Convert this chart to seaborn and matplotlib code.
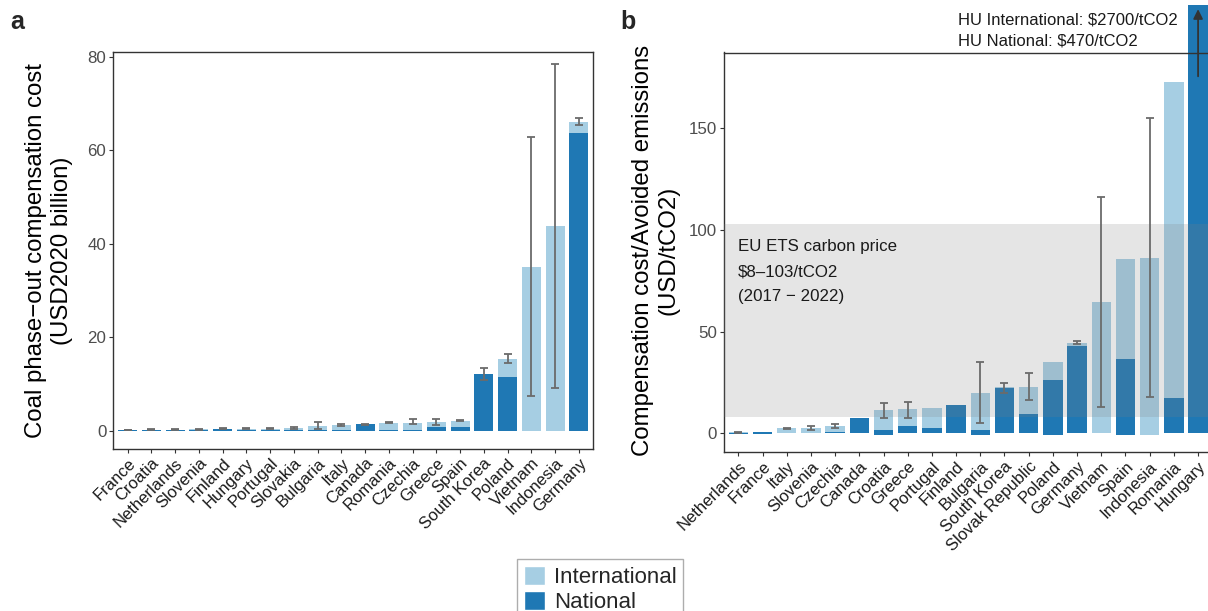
import numpy as np
import pandas as pd
import matplotlib
matplotlib.use("Agg")
import matplotlib.pyplot as plt
import seaborn as sns
from matplotlib.patches import Patch
from matplotlib.transforms import Bbox, TransformedBbox

sns.set_theme(style="white")
plt.rcParams["font.family"] = ["Liberation Sans", "DejaVu Sans"]

# ---------------- data: panel a ----------------
a_countries = ["France", "Croatia", "Netherlands", "Slovenia", "Finland", "Hungary",
               "Portugal", "Slovakia", "Bulgaria", "Italy", "Canada", "Romania",
               "Czechia", "Greece", "Spain", "South Korea", "Poland", "Vietnam",
               "Indonesia", "Germany"]
a_international = [0.10, 0.20, 0.15, 0.30, 0.35, 0.40, 0.40, 0.55, 1.05, 1.20, 1.25, 1.70,
                   1.60, 1.85, 2.10, 12.0, 15.4, 35.1, 43.9, 66.1]
a_national = [0.10, 0.05, 0.20, 0.05, 0.40, 0.05, 0.05, 0.15, 0.05, 0.15, 1.30, 0.15,
              0.10, 0.65, 0.80, 12.1, 11.5, 0.0, 0.0, 63.8]
a_err_low = [0.02, 0.15, 0.10, 0.20, 0.35, 0.35, 0.35, 0.40, 0.30, 0.90, 1.25, 1.60,
             1.40, 1.20, 2.00, 10.8, 14.4, 7.3, 9.1, 65.4]
a_err_high = [0.15, 0.25, 0.30, 0.40, 0.45, 0.45, 0.45, 0.85, 1.80, 1.50, 1.35, 1.80,
              2.40, 2.50, 2.20, 13.4, 16.3, 62.8, 78.6, 67.0]

# ---------------- data: panel b ----------------
b_countries = ["Netherlands", "France", "Italy", "Slovenia", "Czechia", "Canada", "Croatia",
               "Greece", "Portugal", "Finland", "Bulgaria", "South Korea", "Slovak Republic",
               "Poland", "Germany", "Vietnam", "Spain", "Indonesia", "Romania", "Hungary"]
b_international = [0.5, 0.7, 2.45, 2.8, 3.9, 7.6, 11.3, 11.8, 12.7, 14.0, 20.1, 22.7, 23.0,
                   35.3, 44.6, 64.7, 85.8, 86.3, 172.5, 2700.0]
b_international_low = [0, 0, 0, 0, 0, 0, 0, 0, 0, 0, 0, 0, 0,
                       0, 0, 0, 0, -0.7, 0, 0]
b_national = [0.4, 0.8, 0.0, 0.0, 0.5, 7.8, 1.5, 3.9, 2.45, 14.2, 1.6, 22.3, 9.5,
              26.5, 43.0, 0.0, 36.8, 0.0, 17.2, 470.0]
b_national_low = [-0.3, -0.5, 0, 0, 0, 0, -0.7, 0, 0, 0, -0.7, 0, 0,
                  -0.7, 0, 0, -0.7, 0, 0, 0]
b_err_low = [0.2, np.nan, 2.0, 1.8, 2.6, np.nan, 7.4, 7.8, np.nan, np.nan, 5.1, 20.1, 16.5,
             np.nan, 43.8, 13.2, np.nan, 17.8, np.nan, np.nan]
b_err_high = [0.8, np.nan, 2.8, 3.9, 4.9, np.nan, 15.0, 15.5, np.nan, np.nan, 35.0, 24.8, 29.6,
              np.nan, 45.4, 116.2, np.nan, 155.0, np.nan, np.nan]

eu_ets_low, eu_ets_high = 8, 103
hu_labels = ["HU International: \\$2700/tCO2", "HU National: \\$470/tCO2"]
ets_labels = ["EU ETS carbon price", "\\$8\u2013103/tCO2", "(2017 \u2212 2022)"]

LIGHT = "#a6cee3"
DARK = "#1f78b4"
ERR = "#6b6b6b"
W, H = 1208, 611

fig = plt.figure(figsize=(W / 100, H / 100), dpi=100)
ax_a = fig.add_axes([113.3 / W, 1 - 448.5 / H, (593 - 113.3) / W, (448.5 - 52.3) / H])
ax_b = fig.add_axes([723.8 / W, 1 - 452 / H, (1212.6 - 723.8) / W, (452 - 52.5) / H])


def draw(ax, countries, intl, nat, err_lo, err_hi, intl_low=None, nat_low=None):
    n = len(countries)
    df = pd.DataFrame({
        "country": countries * 2,
        "type": ["International"] * n + ["National"] * n,
        "value": list(intl) + list(nat),
    })
    sns.barplot(data=df, x="country", y="value", hue="type", order=countries,
                hue_order=["International", "National"],
                palette={"International": LIGHT, "National": DARK},
                dodge=False, width=0.8, errorbar=None, saturation=1,
                legend=False, ax=ax, zorder=2, linewidth=0, edgecolor="none")
    light_rgb = matplotlib.colors.to_rgb(LIGHT)
    bars = {"International": {}, "National": {}}
    for p in ax.patches:
        xc = p.get_x() + p.get_width() / 2
        idx = int(round(xc))
        kind = "International" if np.allclose(p.get_facecolor()[:3], light_rgb, atol=0.01) else "National"
        bars[kind][idx] = p
        p.set_linewidth(0)
        p.set_edgecolor("none")
    for kind, vals, lows in (("International", intl, intl_low), ("National", nat, nat_low)):
        if lows is None:
            continue
        for i, lo in enumerate(lows):
            if lo < 0 and i in bars[kind]:
                p = bars[kind][i]
                p.set_y(lo)
                p.set_height(vals[i] - lo)
    lo = np.array(err_lo, dtype=float)
    hi = np.array(err_hi, dtype=float)
    x = np.arange(n)
    m = ~np.isnan(lo)
    mid = (lo + hi) / 2
    ax.errorbar(x[m], mid[m], yerr=[mid[m] - lo[m], hi[m] - mid[m]], fmt="none",
                ecolor=ERR, elinewidth=1.3, capsize=3, capthick=1.3, zorder=5)
    ax.set_xlim(-0.6, n - 0.4)
    ax.set_xlabel("")
    ax.set_ylabel("")
    ax.tick_params(axis="x", labelsize=12, labelcolor="#1a1a1a", length=3, width=0.8,
                   color="#333333", bottom=True, pad=2)
    ax.tick_params(axis="y", labelsize=12.2, labelcolor="#4d4d4d", length=3, width=0.8,
                   color="#333333", left=True, pad=2)
    for lab in ax.get_xticklabels():
        lab.set_rotation(45)
        lab.set_ha("right")
        lab.set_rotation_mode("anchor")
    for s in ax.spines.values():
        s.set_color("#333333")
        s.set_linewidth(1.0)
    return bars


draw(ax_a, a_countries, a_international, a_national, a_err_low, a_err_high)
ax_a.set_ylim(-3.85, 81.0)
ax_a.set_yticks([0, 20, 40, 60, 80])

bars_b = draw(ax_b, b_countries, b_international, b_national, b_err_low, b_err_high,
              b_international_low, b_national_low)
ax_b.set_ylim(-9.1, 187.2)
ax_b.set_yticks([0, 50, 100, 150])
ax_b.axhspan(eu_ets_low, eu_ets_high, color="#808080", alpha=0.2, lw=0, zorder=3)

# Hungary bars run beyond the panel
clip = TransformedBbox(Bbox.from_extents(0, 0, 1.2, 1 - 5 / H), fig.transFigure)
hu = len(b_countries) - 1
for kind in ("International", "National"):
    p = bars_b[kind].get(hu)
    if p is not None:
        p.set_clip_box(clip)
        p.set_clip_on(True)

ax_b.annotate("", xy=(hu, 208.5), xytext=(hu, 175.5),
              arrowprops=dict(arrowstyle="-|>", color="#333333", lw=1.3,
                              mutation_scale=14, shrinkA=0, shrinkB=0),
              annotation_clip=False, zorder=6)

for i, t in enumerate(hu_labels):
    fig.text(958 / W, 1 - (20 + 21 * i) / H, t, fontsize=12, color="#1a1a1a",
             ha="left", va="center")
for i, t in enumerate(ets_labels):
    fig.text(738 / W, 1 - (247 + 25 * i) / H, t, fontsize=12.2, color="#1a1a1a",
             ha="left", va="center")

# y labels
fig.text(49 / W, 1 - 251 / H, "Coal phase\u2212out compensation cost\n(USD2020 billion)",
         rotation=90, ha="center", va="center", multialignment="center",
         fontsize=17.3, linespacing=1.2, color="black")
fig.text(656 / W, 1 - 250 / H, "Compensation cost/Avoided emissions\n(USD/tCO2)",
         rotation=90, ha="center", va="center", multialignment="center",
         fontsize=17.3, linespacing=1.2, color="black")

# panel tags
fig.text(10 / W, 1 - 29 / H, "a", fontsize=18, fontweight="bold", ha="left", va="baseline")
fig.text(620 / W, 1 - 29 / H, "b", fontsize=18, fontweight="bold", ha="left", va="baseline")

handles = [Patch(facecolor=LIGHT, label="International"), Patch(facecolor=DARK, label="National")]
fig.legend(handles=handles, loc="upper center", bbox_to_anchor=(600 / W, 1 - 559 / H),
           frameon=True, fancybox=False, edgecolor="#999999", fontsize=16,
           handlelength=0.95, handleheight=0.95, handletextpad=0.4, labelspacing=0.15,
           borderpad=0.3, borderaxespad=0)

fig.savefig("out.png", dpi=100)
